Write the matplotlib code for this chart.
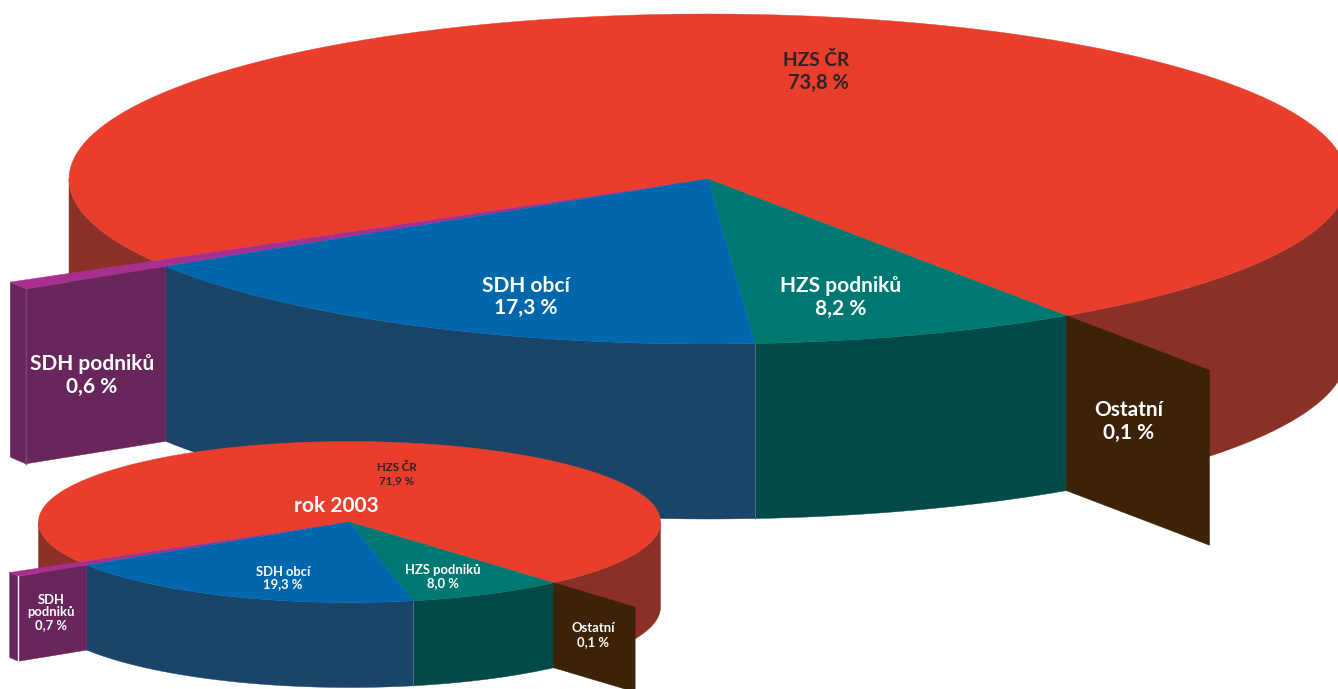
import numpy as np
import matplotlib
matplotlib.use("Agg")
import matplotlib.pyplot as plt
from matplotlib.patches import Polygon

# Data (percent)
categories = ["Ostatní", "HZS podniků", "SDH obcí", "SDH podniků", "HZS ČR"]
values_current = [0.1, 8.2, 17.3, 0.6, 73.8]
values_2003 = [0.1, 8.0, 19.3, 0.7, 71.9]

RED, RED_D = "#EA3E2D", "#8A3027"
BLUE, BLUE_D = "#0067AC", "#1A4568"
TEAL, TEAL_D = "#007872", "#014A47"
PURP, PURP_D = "#A82F8E", "#69265C"
BROWN = "#3C2208"
DARK = "#2B2326"
SEAM = "#5F8496"

plt.rcParams["font.family"] = ["Lato", "DejaVu Sans"]
fig = plt.figure(figsize=(13.38, 6.89), dpi=100)
ax = fig.add_axes([0, 0, 1, 1])
ax.set_xlim(0, 1338)
ax.set_ylim(689, 0)
ax.axis("off")


def pie3d(values, cx, cy, a, b, depth, start, ost_r, pod_r, seam, z):
    edges = start - np.cumsum([0] + [v * 3.6 for v in values])

    def pt(t, r=1.0):
        t = np.radians(t)
        return np.column_stack([cx + r * a * np.cos(t), cy - r * b * np.sin(t)])

    def arc(t0, t1, r=1.0):
        return pt(np.linspace(t0, t1, 240), r)

    def wall(top, c, zz):
        bottom = top[::-1] + [0, depth]
        ax.add_patch(Polygon(np.vstack([top, bottom]), closed=True, fc=c, ec=c, lw=0.3, zorder=zz))

    def top(t0, t1, c, zz, r=1.0):
        ax.add_patch(Polygon(np.vstack([[[cx, cy]], arc(t0, t1, r)]), closed=True, fc=c, ec=c, lw=0.3, zorder=zz))

    e_hp, e_so, e_sp = edges[2], edges[3], edges[4]
    # rear cylinder walls visible at both sides
    wall(arc(edges[0], 0), RED_D, z)
    wall(arc(-180, e_sp), RED_D, z)
    top(e_sp, edges[5], RED, z + 1)
    # front walls (the 0.1 % sliver only shows as the radial wall below)
    wall(arc(edges[0], e_hp), TEAL_D, z + 2)
    wall(arc(e_hp, e_so), BLUE_D, z + 2)
    # exploded SDH podniků slice
    wall(arc(e_so, e_sp, pod_r), PURP_D, z + 3)
    wall(np.vstack([pt(e_so), pt(e_so, pod_r)]), PURP_D, z + 3)
    top(e_so, e_sp, PURP, z + 4, pod_r)
    # top faces
    top(edges[0], e_hp, TEAL, z + 5)
    top(e_hp, e_so, BLUE, z + 5)
    # exploded Ostatní slice
    wall(np.vstack([pt(edges[0]), pt(edges[0], ost_r)]), BROWN, z + 6)
    # seams
    p = pt(e_hp)[0]
    ax.plot([p[0], p[0]], [p[1], p[1] + depth], color=SEAM, lw=0.5, zorder=z + 3)
    q = pt(e_so, pod_r)[0]
    ax.plot([q[0], q[0]], [q[1], q[1] + depth], color=seam, lw=1.0, zorder=z + 4)


pie3d(values_current, 708, 179, 639, 165, 175, -55.9, 1.40, 1.258, "#7A4470", 1)
pie3d(values_2003, 349.5, 522, 311, 80.5, 85, -49.0, 1.40, 1.26, "#FFFFFF", 20)


def pct(v):
    return f"{v:.1f} %".replace(".", ",")


def label(x, y, s, size, color="white"):
    ax.text(x, y + 1.5, s, ha="center", va="center", fontsize=size, color=color,
            fontweight="bold", zorder=50)


L, S, D = 15, 9.4, 8.3
label(816, 59, categories[4], 13.8, DARK)
label(818, 81, pct(values_current[4]), 14.5, DARK)
label(526, 284, categories[2], L)
label(526, 306, pct(values_current[2]), L)
label(841, 285, categories[1], L)
label(841, 307, pct(values_current[1]), L)
label(92, 363, categories[3], L)
label(92, 385, pct(values_current[3]), L)
label(1129, 409, categories[0], L)
label(1129, 431, pct(values_current[0]), L)

label(397, 466, categories[4], D, DARK)
label(397, 479, pct(values_2003[4]), D, DARK)
label(336, 505, "rok 2003", 15)
label(283, 570, categories[2], S)
label(283, 583, pct(values_2003[2]), S)
label(443, 569, categories[1], S)
label(443, 582, pct(values_2003[1]), S)
label(51, 598, "SDH", S)
label(51, 610, "podniků", S)
label(51, 624, pct(values_2003[3]), S)
label(593, 627, categories[0], S)
label(593, 641, pct(values_2003[0]), S)

fig.savefig("out.png", dpi=100, facecolor="white")
